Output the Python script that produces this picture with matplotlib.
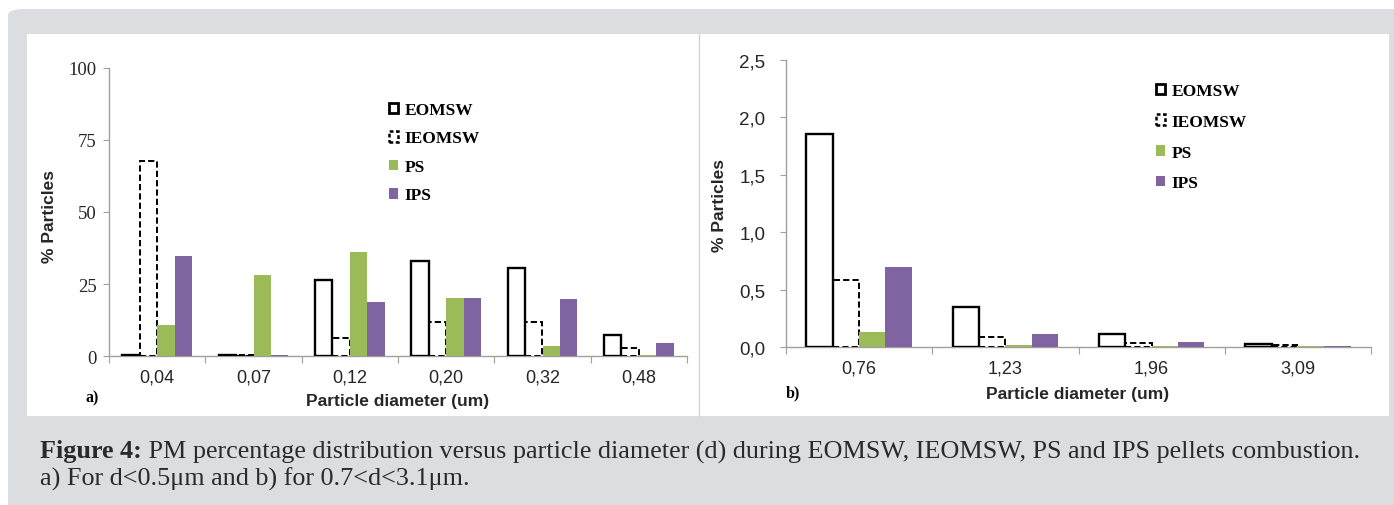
import numpy as np
import matplotlib
matplotlib.use("Agg")
import matplotlib.pyplot as plt
from matplotlib.patches import Patch, FancyBboxPatch, Rectangle
from matplotlib import font_manager

# ---------------- data ----------------
series = ["EOMSW", "IEOMSW", "PS", "IPS"]

cats_a = ["0,04", "0,07", "0,12", "0,20", "0,32", "0,48"]
eomsw_a = [0.5, 0.5, 26.5, 33.0, 30.5, 7.2]
ieomsw_a = [67.6, 0.3, 6.1, 11.8, 11.7, 2.7]
ps_a = [10.9, 28.2, 36.0, 20.0, 3.5, 0.5]
ips_a = [34.7, 0.5, 18.6, 20.0, 19.8, 4.4]
yticks_a = [0, 25, 50, 75, 100]
ylabels_a = ["0", "25", "50", "75", "100"]

cats_b = ["0,76", "1,23", "1,96", "3,09"]
eomsw_b = [1.85, 0.348, 0.119, 0.032]
ieomsw_b = [0.585, 0.087, 0.035, 0.02]
ps_b = [0.136, 0.023, 0.012, 0.01]
ips_b = [0.695, 0.113, 0.046, 0.015]
yticks_b = [0.0, 0.5, 1.0, 1.5, 2.0, 2.5]
ylabels_b = ["0,0", "0,5", "1,0", "1,5", "2,0", "2,5"]

caption_bold = "Figure 4:"
caption_rest = " PM percentage distribution versus particle diameter (d) during EOMSW, IEOMSW, PS and IPS pellets combustion."
caption_line2 = "a) For d<0.5\u03bcm and b) for 0.7<d<3.1\u03bcm."

# ---------------- styling ----------------
W, H = 1394, 506
GREEN = "#9bbb59"
PURPLE = "#8064a2"
SPINE = "#a0a0a0"
TXT = "#262626"

names = {f.name for f in font_manager.fontManager.ttflist}
NARROW = "Liberation Sans Narrow" if "Liberation Sans Narrow" in names else "Liberation Sans"
SERIF = "Liberation Serif"

fig = plt.figure(figsize=(W / 100, H / 100), dpi=100)
fig.patch.set_facecolor("white")

def fx(x):
    return x / W

def fy(y):
    return 1 - y / H

# background gray rounded panel
bg = FancyBboxPatch((fx(8), fy(530)), fx(1420 - 8), fy(10) - fy(530),
                    boxstyle="round,pad=0,rounding_size=0.012",
                    transform=fig.transFigure, facecolor="#dcdde0",
                    edgecolor="none", zorder=0)
fig.patches.append(bg)
# white panels
fig.patches.append(Rectangle((fx(27), fy(417)), fx(1389 - 27), fy(35) - fy(417),
                             transform=fig.transFigure, facecolor="white",
                             edgecolor="none", zorder=1))
fig.lines.append(plt.Line2D([fx(699), fx(699)], [fy(417), fy(35)],
                            transform=fig.transFigure, color="#d4d4d4", lw=1, zorder=2))


def draw_panel(rect, cats, vals, ylim, yticks, ylabels, yfont, ytick_pad):
    ax = fig.add_axes(rect)
    ax.set_zorder(3)
    ax.patch.set_alpha(0)
    n = len(cats)
    x = np.arange(n)
    w = 0.18
    offs = [-1.5 * w, -0.5 * w, 0.5 * w, 1.5 * w]
    ax.bar(x + offs[0], vals[0], w, facecolor="white", edgecolor="black", lw=1.7, zorder=3)
    ax.bar(x + offs[1], vals[1], w, facecolor="white", edgecolor="black", lw=1.4,
           linestyle=(0, (3.2, 1.6)), zorder=2)
    ax.bar(x + offs[2], vals[2], w, color=GREEN, lw=0, zorder=2)
    ax.bar(x + offs[3], vals[3], w, color=PURPLE, lw=0, zorder=2)
    ax.set_xlim(-0.5, n - 0.5)
    ax.set_ylim(*ylim)
    for s in ["top", "right"]:
        ax.spines[s].set_visible(False)
    for s in ["left", "bottom"]:
        ax.spines[s].set_color(SPINE)
        ax.spines[s].set_linewidth(1.0)
        ax.spines[s].set_zorder(1)
    ax.set_xticks(np.arange(-0.5, n, 1.0))
    ax.set_xticklabels([])
    ax.set_xticks(x, minor=True)
    ax.set_xticklabels(cats, minor=True, fontfamily=NARROW, fontsize=13, color=TXT)
    ax.tick_params(axis="x", which="major", length=5, color=SPINE, direction="out")
    ax.tick_params(axis="x", which="minor", length=0, pad=9)
    ax.set_yticks(yticks)
    ax.set_yticklabels(ylabels, fontfamily=yfont, fontsize=13.5, color=TXT)
    ax.tick_params(axis="y", length=4, color=SPINE, direction="out", pad=ytick_pad)
    return ax

ax_a = draw_panel([fx(109), fy(357), fx(687 - 109), fy(69) - fy(357)], cats_a,
                  [eomsw_a, ieomsw_a, ps_a, ips_a], (0, 100), yticks_a, ylabels_a,
                  SERIF, 5)
ax_b = draw_panel([fx(786), fy(348.3), fx(1371 - 786), fy(60.7) - fy(348.3)], cats_b,
                  [eomsw_b, ieomsw_b, ps_b, ips_b], (0, 2.5), yticks_b, ylabels_b,
                  NARROW, 11)

handles = [
    Patch(facecolor="white", edgecolor="black", lw=2.0),
    Patch(facecolor="white", edgecolor="black", lw=1.8, linestyle=(0, (1.5, 1))),
    Patch(facecolor=GREEN, edgecolor="none"),
    Patch(facecolor=PURPLE, edgecolor="none"),
]

def add_legend(ax, x0, y0, spacing):
    leg = ax.legend(handles, series, loc="upper left",
                    bbox_to_anchor=(fx(x0), fy(y0)), bbox_transform=fig.transFigure,
                    frameon=False, prop={"family": SERIF, "weight": "bold", "size": 12.5},
                    handlelength=0.5, handleheight=0.55, handletextpad=0.4,
                    labelspacing=spacing, borderpad=0, borderaxespad=0)
    for t in leg.get_texts():
        t.set_color("black")
    return leg

add_legend(ax_a, 389, 103, 0.72)
add_legend(ax_b, 1156, 84, 0.85)

lab_font = dict(family=NARROW, weight="bold", size=12.5, color=TXT)
fig.text(fx(50), fy(217), "% Particles", rotation=90, ha="center", va="center", **lab_font)
fig.text(fx(720), fy(206), "% Particles", rotation=90, ha="center", va="center", **lab_font)
fig.text(fx(398), fy(402), "Particle diameter (um)", ha="center", va="center", **lab_font)
fig.text(fx(1078), fy(395), "Particle diameter (um)", ha="center", va="center", **lab_font)
fig.text(fx(92), fy(398), "a)", ha="center", va="center", family=SERIF, weight="bold",
         size=11.5, color="black")
fig.text(fx(793), fy(393), "b)", ha="center", va="center", family=SERIF, weight="bold",
         size=11.5, color="black")

# caption
cap_size = 18.8
t1 = fig.text(fx(40), fy(452), caption_bold, ha="left", va="center", family=SERIF,
              weight="bold", size=cap_size, color="#2a2a2a")
fig.canvas.draw()
r = fig.canvas.get_renderer()
bb = t1.get_window_extent(r)
fig.text(bb.x1 / W, fy(452), caption_rest, ha="left", va="center", family=SERIF,
         size=cap_size, color="#2a2a2a")
fig.text(fx(40), fy(479), caption_line2, ha="left", va="center", family=SERIF,
         size=cap_size, color="#2a2a2a")

fig.savefig("out.png", dpi=100)
